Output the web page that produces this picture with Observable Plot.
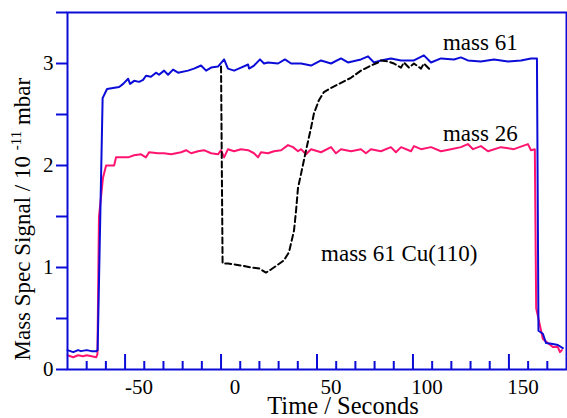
<!DOCTYPE html>
<html>
<head>
<meta charset="utf-8">
<script src="https://cdn.jsdelivr.net/npm/d3@7"></script>
<script src="https://cdn.jsdelivr.net/npm/@observablehq/plot@0.6"></script>
<style>
  html, body { margin: 0; padding: 0; background: #fff; }
</style>
</head>
<body>
<div id="chart"></div>
<script>
// ---- data (time in seconds, signal in 10^-11 mbar) ----
const time61 = [-80,-77,-74.5,-73,-70,-67.5,-65,-64.3,-61.7,-59.4,-56.3,-53.1,-51,-48.4,-47.4,-45.3,-42.7,-40.6,-39.1,-36.5,-33.9,-32.3,-29.7,-27.6,-25,-22.4,-17.2,-14.1,-10.4,-7.8,-5.2,-1.6,1.6,3.6,6.8,10.4,14.1,14.6,17.2,20.3,22.4,24.5,29.7,33.3,36.5,41.7,46.9,52.1,57.3,62.5,66.1,72.9,76.6,79.7,83.3,88.5,93.8,100.5,105.7,109.4,114.6,121.4,125,128.6,135.4,142.2,149.5,156.3,161.5,164.6,165.4,167.7,169.3,172.9,175.5,178.1];
const mass61 = [0.19,0.17,0.19,0.18,0.19,0.18,0.18,0.19,2.66,2.75,2.76,2.77,2.80,2.85,2.80,2.83,2.82,2.84,2.88,2.87,2.91,2.89,2.93,2.89,2.94,2.91,2.93,2.95,2.98,2.93,2.96,2.97,3.04,2.95,2.93,2.96,2.99,2.95,2.98,3.04,3.00,3.01,3.00,3.04,3.00,3.00,2.98,3.03,3.00,3.05,3.01,3.04,3.07,3.01,3.03,3.05,3.03,3.03,3.08,3.01,3.05,3.04,3.06,3.03,3.02,3.04,3.02,3.03,3.05,3.05,0.38,0.35,0.26,0.25,0.24,0.21];

const time26 = [-80,-77,-74.5,-72,-70,-67.5,-65,-64.4,-63.6,-61.5,-59.9,-55.7,-54.7,-48.4,-45.3,-41.7,-39.1,-37.5,-32.8,-29.7,-26.0,-20.8,-18.2,-15.6,-12.0,-8.9,-5.2,-1.6,0,1.6,3.6,6.8,10.4,14.1,17.2,19.3,20.8,24.5,27.6,31.3,34.9,37.5,40.1,41.7,44.3,46.9,52.1,57.3,59.9,62.5,67.7,72.9,75.5,78.1,83.3,88.5,91.1,93.8,99.0,100.5,104.2,109.4,114.6,119.8,125.0,128.6,131.3,135.4,139.1,145.8,152.6,159.9,161.5,163.5,164.2,167.7,170.3,172.9,175.5,176.6,177.6];
const mass26 = [0.14,0.12,0.14,0.13,0.14,0.13,0.12,0.15,1.50,1.88,2.00,2.00,2.08,2.08,2.10,2.11,2.08,2.13,2.12,2.12,2.11,2.13,2.15,2.12,2.14,2.15,2.12,2.11,2.15,2.08,2.16,2.14,2.16,2.15,2.12,2.08,2.13,2.12,2.14,2.15,2.20,2.18,2.14,2.16,2.11,2.16,2.13,2.18,2.12,2.16,2.14,2.16,2.12,2.16,2.14,2.18,2.13,2.18,2.14,2.19,2.16,2.18,2.14,2.16,2.18,2.21,2.16,2.19,2.14,2.18,2.16,2.21,2.15,2.16,0.60,0.30,0.26,0.22,0.22,0.17,0.19];

const timeCu = [0.0,0.8,3.6,10.4,15.6,20.0,23.4,26.0,32.8,35.4,38.0,39.1,40.1,41.7,44.3,46.9,48.4,51.0,53.6,57.3,62.5,67.7,72.9,78.1,81.8,83.3,87.0,90.1,93.8,95.3,97.9,100.5,104.2,105.7,109.4];
const massCu = [2.97,1.04,1.04,1.02,1.00,0.99,0.95,0.98,1.07,1.15,1.36,1.56,1.78,1.92,2.15,2.37,2.51,2.64,2.72,2.76,2.81,2.86,2.93,2.98,3.01,3.03,3.02,3.00,2.96,3.01,2.96,3.00,2.95,3.00,2.93];

const xMajor = [-50, 0, 50, 100, 150];
const xMinor = [-70,-60,-40,-30,-20,-10,10,20,30,40,60,70,80,90,110,120,130,140,160,170];
const yTicks = [0, 0.5, 1, 1.5, 2, 2.5, 3, 3.5];
const yLabels = [0, 1, 2, 3];

const labels = [
  {t: 115.6, v: 3.2, text: "mass 61"},
  {t: 115.6, v: 2.31, text: "mass 26"},
  {t: 52.1, v: 1.14, text: "mass 61 Cu(110)"}
];
const xTitle = "Time / Seconds";
const yTitleParts = ["Mass Spec Signal / 10 ", "-11", " mbar"];

// ---- build ----
const blue = "#0c0cd8";
const pink = "#ff1470";
const W = 567, H = 418, mL = 67, mR = 1, mT = 12, mB = 49;
const plotW = W - mL - mR, plotH = H - mT - mB;

const s61 = time61.map((t, i) => ({t, v: mass61[i]}));
const s26 = time26.map((t, i) => ({t, v: mass26[i]}));
const sCu = timeCu.map((t, i) => ({t, v: massCu[i]}));

const chart = Plot.plot({
  width: W, height: H,
  marginLeft: mL, marginRight: mR, marginTop: mT, marginBottom: mB,
  style: {fontFamily: "'Liberation Serif', 'Times New Roman', serif", background: "#fff", color: "#000"},
  x: {domain: [-80, 180], axis: null},
  y: {domain: [0, 3.5], axis: null},
  marks: [
    Plot.line(s26, {x: "t", y: "v", stroke: pink, strokeWidth: 2}),
    Plot.line(s61, {x: "t", y: "v", stroke: blue, strokeWidth: 2}),
    Plot.line(sCu, {x: "t", y: "v", stroke: "#000", strokeWidth: 2, strokeDasharray: "6,3.5"}),
    Plot.frame({stroke: blue, strokeWidth: 2}),
    Plot.tickX(xMajor, {x: d => d, stroke: blue, strokeWidth: 2, insetTop: plotH - 15}),
    Plot.tickX(xMinor, {x: d => d, stroke: blue, strokeWidth: 2, insetTop: plotH - 8}),
    Plot.tickY(yTicks, {y: d => d, stroke: blue, strokeWidth: 2, insetLeft: -11, insetRight: plotW}),
    Plot.text(xMajor, {x: d => d, text: d => String(d), frameAnchor: "bottom", dx: 14, dy: 18, fontSize: 21, lineAnchor: "middle", fill: "#000"}),
    Plot.text(yLabels, {y: d => d, text: d => String(d), frameAnchor: "left", dx: -14, textAnchor: "end", fontSize: 21, lineAnchor: "middle", fill: "#000"}),
    Plot.text(labels, {x: "t", y: "v", text: "text", textAnchor: "start", fontSize: 23, lineAnchor: "middle", fill: "#000"}),
    Plot.text([xTitle], {text: d => d, frameAnchor: "bottom", dx: 26, dy: 37, fontSize: 24.5, lineAnchor: "middle", fill: "#000"}),
    Plot.text([yTitleParts.join("")], {text: d => d, frameAnchor: "left", dx: -45, rotate: -90, fontSize: 23, lineAnchor: "middle", fill: "#000"})
  ]
});

document.getElementById("chart").appendChild(chart);

// superscript for the exponent in the y title; the title starts just above the x-axis level
const frameMidY = (mT + H - mB) / 2;
const titleStartY = H - mB - 9;
d3.select(chart).selectAll("text").filter(function() { return this.textContent === yTitleParts.join(""); })
  .each(function() {
    const t = d3.select(this);
    t.text(null).attr("text-anchor", "start");
    t.append("tspan").text(yTitleParts[0]);
    t.append("tspan").attr("dy", -9).attr("font-size", 15).text(yTitleParts[1]);
    t.append("tspan").attr("dy", 9).text(yTitleParts[2]);
    t.attr("x", -(titleStartY - frameMidY));
  });
</script>
</body>
</html>
